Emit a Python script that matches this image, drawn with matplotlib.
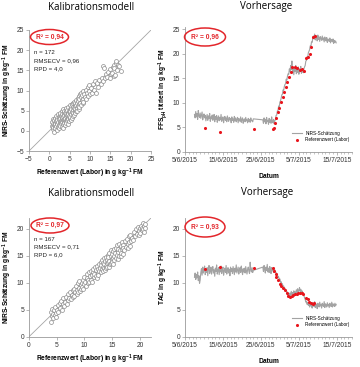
import matplotlib
matplotlib.use('Agg')
import matplotlib.pyplot as plt
import matplotlib.dates as mdates
from matplotlib.patches import Ellipse
from matplotlib.ticker import FuncFormatter
import pandas as pd

plt.rcParams['font.family'] = ['Liberation Sans', 'DejaVu Sans']
plt.rcParams['mathtext.fontset'] = 'custom'
plt.rcParams['mathtext.rm'] = 'Liberation Sans'
plt.rcParams['mathtext.bf'] = 'Liberation Sans:bold'
plt.rcParams['mathtext.it'] = 'Liberation Sans:italic'

# ---- Kalibrationsmodell FFS (oben links), n = 172
ffs_ref = [0.6, 0.7, 0.8, 0.9, 1.0, 1.0, 1.1, 1.2, 1.2, 1.3, 1.4, 1.4, 1.5, 1.5,
           1.6, 1.6, 1.7, 1.8, 1.8, 1.9, 2.0, 2.0, 2.1, 2.1, 2.2, 2.3, 2.3, 2.4, 2.4, 2.5, 2.5, 2.5,
           2.6, 2.7, 2.7, 2.8, 2.9, 2.9, 3.0, 3.0, 3.1, 3.1, 3.2, 3.2, 3.3, 3.3, 3.4, 3.4, 3.5, 3.5, 3.5, 3.4,
           3.6, 3.6, 3.7, 3.8, 3.8, 3.9, 3.9, 4.0, 4.0, 4.1, 4.1, 4.2, 4.2, 4.3, 4.3, 4.4, 4.4, 4.5, 4.5, 4.5,
           4.6, 4.7, 4.7, 4.8, 4.9, 4.9, 5.0, 5.0, 5.1, 5.1, 5.2, 5.2, 5.3, 5.3, 5.4, 5.4, 5.5, 5.5,
           5.6, 5.7, 5.7, 5.8, 5.9, 5.9, 6.0, 6.1, 6.1, 6.2, 6.2, 6.3, 6.4, 6.4, 6.5, 6.5,
           6.6, 6.7, 6.8, 6.9, 7.0, 7.0, 7.1, 7.2, 7.2, 7.3, 7.4, 7.4, 7.5, 7.5,
           7.7, 7.8, 7.9, 8.0, 8.1, 8.2, 8.3, 8.3, 8.4, 8.5,
           8.7, 8.9, 9.0, 9.2, 9.4, 9.5, 9.7, 9.8, 10.0,
           10.3, 10.6, 10.8, 11.0, 11.3, 11.5, 11.7, 12.0,
           12.3, 12.6, 12.9, 13.1, 13.3, 13.4, 13.6, 13.9,
           14.2, 14.5, 14.8, 15.0, 15.2, 15.4, 15.6, 15.8, 15.9, 16.0, 16.2, 16.3, 16.5, 16.6, 16.8, 17.2, 17.5]
ffs_nirs = [1.2, 2.3, 0.4, 1.8, 2.9, 0.9, 1.5, -0.2, 2.6, 1.1, 2.0, 3.3, 0.6, 1.7,
            2.4, 3.8, 1.2, 2.0, 0.3, 3.1, 1.6, 2.7, 4.2, 0.9, 2.2, 3.5, 1.4, 2.9, 0.6, 1.9, 3.9, 2.5,
            3.2, 1.3, 4.5, 2.4, 3.7, 1.9, 2.9, 4.9, 1.0, 3.4, 2.2, 4.1, 2.7, 5.3, 1.6, 3.6, 2.5, 4.4, 3.0, 0.8,
            3.9, 1.9, 5.0, 2.8, 4.3, 3.3, 1.4, 4.8, 2.4, 3.6, 5.6, 2.0, 4.1, 3.0, 5.2, 3.9, 2.6, 4.5, 1.8, 3.4,
            5.8, 3.0, 4.2, 2.4, 5.0, 3.7, 6.3, 4.5, 2.9, 5.4, 3.5, 4.8, 6.0, 2.6, 4.1, 5.5, 3.3, 6.6,
            4.7, 5.9, 3.8, 5.2, 6.8, 4.3, 5.6, 7.2, 3.9, 6.1, 4.8, 5.3, 7.0, 4.4, 6.4, 5.0,
            7.6, 5.6, 6.9, 4.9, 8.1, 6.2, 7.3, 5.4, 8.6, 6.7, 7.8, 5.9, 9.2, 7.0,
            8.4, 6.5, 9.5, 7.6, 8.9, 6.9, 9.8, 8.0, 7.2, 9.1,
            8.3, 10.2, 7.9, 9.4, 10.8, 8.7, 9.9, 11.3, 9.2,
            10.6, 9.4, 11.5, 10.2, 12.3, 9.3, 11.8, 10.9,
            12.6, 11.6, 13.2, 12.4, 16.0, 15.5, 13.0, 14.1,
            13.4, 14.6, 13.2, 15.3, 14.1, 14.4, 15.9, 16.4, 13.6, 15.7, 13.8, 16.9, 17.3, 15.2, 16.4, 16.0, 14.8]

# ---- Kalibrationsmodell TAC (unten links), n = 167
tac_ref = [3.9, 4.0, 4.1, 4.2, 4.3, 4.4, 4.5, 4.6, 4.7, 4.8, 4.9, 5.0,
           5.2, 5.3, 5.5, 5.6, 5.8, 5.9, 6.1, 6.2, 6.4, 6.5,
           6.7, 6.8, 7.0, 7.1, 7.3, 7.4, 7.6, 7.7, 7.9, 8.0,
           8.1, 8.2, 8.3, 8.5, 8.6, 8.7, 8.8, 8.9, 9.0, 9.1, 9.2, 9.3, 9.4, 9.5,
           9.6, 9.7, 9.8, 9.9, 10.0, 10.1, 10.2, 10.4, 10.5, 10.6, 10.7, 10.8, 10.9, 11.0,
           11.1, 11.2, 11.3, 11.4, 11.5, 11.6, 11.7, 11.8, 11.9, 12.0, 12.1, 12.2, 12.3, 12.4, 12.4, 12.5,
           12.6, 12.7, 12.8, 12.9, 13.0, 13.0, 13.1, 13.2, 13.3, 13.3, 13.4, 13.5, 13.5, 13.6, 13.7, 13.7, 13.8, 13.9, 13.9, 14.0,
           14.1, 14.1, 14.2, 14.3, 14.3, 14.4, 14.5, 14.5, 14.6, 14.7, 14.7, 14.8, 14.9, 14.9, 15.0, 15.1, 15.1, 15.2, 15.3, 15.4, 15.4, 15.5,
           15.6, 15.7, 15.8, 15.9, 16.0, 16.0, 16.1, 16.2, 16.3, 16.4, 16.5, 16.5, 16.6, 16.7, 16.8, 16.9, 17.0, 17.0,
           17.2, 17.3, 17.5, 17.6, 17.8, 17.9, 18.0, 18.1, 18.2, 18.3, 18.4, 18.5,
           18.7, 18.9, 19.1, 19.3, 19.5, 19.6, 19.8, 19.9, 20.0, 20.0,
           20.2, 20.3, 20.4, 20.5, 20.6, 20.7, 20.8, 20.9, 21.0]
tac_nirs = [2.8, 4.6, 3.9, 5.1, 4.2, 3.5, 4.9, 4.0, 5.5, 4.4, 3.7, 5.0,
            5.8, 4.6, 6.2, 5.3, 6.6, 5.0, 6.0, 7.1, 5.7, 6.5,
            7.4, 6.1, 7.9, 6.8, 7.2, 8.3, 6.9, 7.8, 8.6, 7.4,
            8.9, 7.6, 8.3, 9.4, 7.9, 8.7, 9.9, 8.2, 9.1, 10.3, 8.5, 9.6, 8.8, 10.0,
            9.3, 10.6, 8.9, 9.8, 11.0, 10.2, 9.4, 10.8, 11.6, 9.9, 10.5, 11.9, 10.1, 11.2,
            10.6, 12.1, 11.4, 10.2, 11.9, 12.6, 11.0, 11.6, 12.9, 11.3, 12.3, 10.9, 13.1, 11.8, 12.5, 11.5,
            13.4, 12.2, 12.8, 13.9, 11.9, 13.2, 12.6, 14.2, 13.0, 12.1, 13.7, 14.6, 12.8, 13.4, 12.4, 14.0, 13.1, 14.8, 12.7, 13.6,
            14.3, 13.0, 15.1, 13.8, 14.7, 12.9, 14.0, 15.5, 13.5, 14.9, 16.0, 13.7, 14.4, 15.3, 13.9, 15.8, 14.6, 13.4, 15.0, 16.2, 14.2, 15.6,
            14.5, 16.4, 15.2, 17.0, 15.7, 14.4, 16.3, 15.0, 17.2, 16.0, 14.9, 16.8, 15.5, 17.6, 16.2, 15.3, 17.0, 16.5,
            16.0, 17.8, 16.7, 18.2, 17.1, 16.4, 18.6, 17.5, 16.9, 18.9, 17.8, 18.3,
            18.0, 19.4, 18.6, 19.9, 19.0, 20.4, 19.5, 18.8, 20.1, 19.3,
            20.6, 19.7, 20.2, 21.0, 19.9, 20.5, 19.4, 20.8, 20.1]

# ---- Vorhersage: NIRS-Schätzung alle 4 h (zwei Messabschnitte)
nirs_ffs = [7.6, 6.9, 8.2, 7.1, 7.8, 6.6, 8.4, 7.3, 7.0,
            7.9, 6.8, 7.5, 8.1, 6.5, 7.2, 7.7, 6.9, 7.4, 6.3,
            7.0, 7.6, 6.4, 7.3, 6.8, 7.8, 6.2, 7.1, 6.7, 7.5,
            6.4, 6.9, 7.6, 6.1, 7.2, 6.6, 7.4, 6.0, 6.9, 7.3,
            6.3, 7.0, 6.5, 7.6, 6.2, 6.8, 7.1, 5.9, 6.7, 7.2,
            6.4, 6.9, 6.1, 7.3, 6.6, 6.2, 7.0, 6.5, 6.8, 5.9,
            7.1, 6.4, 6.7, 6.0, 7.2, 6.3, 6.9, 6.1, 6.6, 7.0,
            5.9, 6.8, 6.4, 6.2, 7.1, 6.0, 6.6, 6.9, 5.8, 6.5,
            6.7, 6.1, 7.0, 6.3, 6.5, 5.9, 6.8, 6.2, 6.6, 6.0,
            6.9, 6.3, 6.4, 6.1, 6.7,
            # ab 25/6
            6.5, 5.8, 6.9, 6.1, 6.6, 5.7, 7.0, 6.2, 6.4, 5.6, 6.8, 6.0, 6.5, 5.8, 7.1, 6.2, 5.9, 6.6, 5.7, 6.3,
            6.6, 7.4, 7.5, 8.3, 8.4, 9.3, 9.2, 10.1, 10.4, 10.9, 11.6, 11.7, 12.6, 12.5, 13.3, 13.7, 13.9,
            14.8, 14.6, 15.4, 15.9, 15.8, 16.9, 16.3, 17.6, 16.8,
            18.5, 16.1, 17.2, 15.7, 17.0, 16.4, 17.6, 15.9, 16.8, 16.2, 17.3, 15.8, 16.9, 16.5, 17.4, 16.0,
            16.7, 16.3, 16.1,
            16.9, 17.3, 17.6, 18.5, 18.6, 19.4, 19.3, 20.2, 20.5, 20.8, 21.6, 21.5, 22.4, 22.3, 23.2, 23.6,
            23.0, 24.0, 22.8, 23.6, 23.3, 22.6, 23.8, 22.9, 23.4, 22.5, 23.5, 23.1, 22.7, 23.6, 22.8, 23.2,
            22.4, 23.4, 22.9, 22.6, 23.3, 22.3, 23.0, 22.7, 22.5, 23.2, 22.2, 22.9, 22.6, 22.4, 23.0, 22.1,
            22.7, 22.3, 22.6, 22.2]
nirs_tac = [11.0, 11.8, 10.6, 11.5, 10.9, 12.0, 10.4, 11.3, 9.9,
            10.5, 11.9, 12.6, 11.4, 12.9, 11.8, 12.3, 13.1, 11.5, 12.4,
            11.9, 12.8, 11.3, 12.6, 13.2, 11.7, 12.2, 12.9, 11.6, 12.5,
            13.0, 11.8, 12.4, 11.2, 12.7, 12.1, 13.3, 11.6, 12.3, 12.8,
            11.5, 12.6, 12.0, 13.1, 11.7, 12.4, 12.9, 11.4, 12.2, 12.7,
            11.9, 13.2, 11.6, 12.3, 12.8, 11.8, 12.5, 11.3, 12.9, 12.1,
            12.6, 11.7, 13.0, 12.2, 11.5, 12.7, 12.0, 13.3, 11.8, 12.4,
            12.9, 11.6, 12.3, 12.8, 11.9, 13.1, 12.2, 11.5, 12.6, 12.0,
            12.7, 11.8, 13.0, 12.3, 11.6, 12.5, 12.9, 12.1, 11.7, 13.8,
            12.4, 12.0, 12.8, 11.9, 12.3,
            # ab 25/6
            12.9, 12.1, 13.2, 12.4, 11.8, 12.9, 12.3, 13.4, 12.0, 12.7, 11.9, 13.0, 12.5, 11.7, 12.8, 12.2,
            12.6, 11.9, 12.7, 12.3,
            12.0, 11.9, 11.4, 11.6, 11.0, 11.1, 10.6, 10.7, 10.1, 10.2, 9.7, 9.8, 9.2, 9.4, 8.8, 9.0, 8.4,
            8.6, 8.0, 8.3, 7.6, 7.9, 7.4,
            8.1, 7.6, 8.4, 7.8, 8.2, 7.5, 8.5, 7.9, 8.3, 8.0, 8.7, 8.1, 8.9, 8.3, 8.6, 9.1, 8.4, 8.8, 8.2,
            8.5, 7.9, 8.1,
            7.6, 7.2, 6.9, 6.4, 6.6, 6.0, 6.3, 5.8,
            6.2, 5.5, 6.4, 5.7, 6.0, 5.3, 6.3, 5.8, 5.6, 6.5, 5.4, 6.1, 5.8, 5.2, 6.2, 5.9, 5.5, 6.4, 5.7,
            6.0, 5.3, 6.2, 5.8, 5.6, 6.5, 5.4, 6.1, 5.9, 5.5, 6.3, 5.7, 6.0, 5.4, 6.2, 5.8, 5.6, 6.4, 5.5,
            6.1, 5.9, 5.6, 6.2, 5.7, 6.0]

# ---- Referenzwerte (Labor), Tage nach dem 5/6/2015
lab_ffs_day = [5.3, 9.2, 18.2, 23.2, 23.4, 23.7, 24.1, 24.6, 24.8, 25.3, 25.7, 26.1, 26.6, 27.0,
               27.5, 27.9, 28.3, 28.9, 29.6, 30.3, 30.9, 31.4, 32.0, 32.4, 32.9, 33.3, 33.8, 34.2]
lab_ffs = [4.8, 4.0, 4.6, 4.6, 4.8, 5.8, 6.8, 8.2, 8.9, 10.2, 11.2, 12.2, 13.3, 14.3,
           15.3, 16.3, 17.2, 17.3, 17.0, 16.7, 16.8, 16.5, 19.1, 19.4, 19.9, 21.4, 23.3, 23.7]
lab_tac_day = [5.3, 9.2, 18.2, 23.2, 23.5, 23.9, 24.1, 24.6, 25.0, 25.4, 25.9, 26.3, 26.8, 27.2, 27.6,
               28.1, 28.5, 28.9, 29.4, 29.8, 30.3, 30.7, 31.1, 31.8, 32.3, 32.7, 33.2, 33.6, 34.0]
lab_tac = [12.5, 13.0, 12.8, 12.8, 12.2, 11.6, 11.1, 10.5, 9.7, 9.4, 9.1, 8.7, 8.1, 7.6, 7.3,
           7.6, 7.8, 7.9, 8.0, 8.1, 8.1, 8.1, 8.0, 7.1, 6.9, 6.5, 6.2, 6.0, 6.3]

date_ticks = ['2015-06-05', '2015-06-15', '2015-06-25', '2015-07-05', '2015-07-15']

#%% zeitachsen
start = pd.Timestamp('2015-06-05')
nirs_time = pd.date_range('2015-06-07 12:00', periods=94, freq='4h').append(
    pd.date_range('2015-06-25 12:00', periods=117, freq='4h'))
lab_ffs_time = start + pd.to_timedelta(lab_ffs_day, unit='D')
lab_tac_time = start + pd.to_timedelta(lab_tac_day, unit='D')

#%% figure
W, H = 360, 367
fig = plt.figure(figsize=(W / 100, H / 100), dpi=100)

def add_ax(l, t, r, b):
    return fig.add_axes([l / W, 1 - b / H, (r - l) / W, (b - t) / H])

def style(ax):
    for s in ['top', 'right']:
        ax.spines[s].set_visible(False)
    for s in ['left', 'bottom']:
        ax.spines[s].set_color('#9a9a9a')
        ax.spines[s].set_linewidth(0.6)
    ax.tick_params(labelsize=4.8, length=2, width=0.5, color='#9a9a9a',
                   labelcolor='#333333', pad=1.5)
    ax.tick_params(which='minor', length=1.5, width=0.4, color='#9a9a9a')

ax1 = add_ax(29, 30, 151, 151)
ax2 = add_ax(185, 26.7, 352, 151.7)
ax3 = add_ax(29, 218, 151, 336.7)
ax4 = add_ax(185, 218, 352, 336.7)
for ax in [ax1, ax2, ax3, ax4]:
    style(ax)

ylab_unit = ' in g kg$^{\\mathbf{-1}}$ FM'
xlab_cal = 'Referenzwert (Labor)' + ylab_unit

# Kalibration
for ax, xr, yn, lim, ticks in [(ax1, ffs_ref, ffs_nirs, (-5, 25), range(-5, 26, 5)),
                               (ax3, tac_ref, tac_nirs, (0, 22), range(0, 21, 5))]:
    ax.plot(lim, lim, color='#a5a5a5', lw=0.6, zorder=1)
    ax.scatter(xr, yn, s=8, facecolors='white', edgecolors='#8c8c8c', linewidths=0.5, zorder=3)
    ax.set_xlim(lim)
    ax.set_ylim(lim)
    ax.set_xticks(list(ticks))
    ax.set_yticks(list(ticks))
    ax.set_xlabel(xlab_cal, fontsize=4.8, fontweight='bold', labelpad=3)
    ax.set_ylabel('NIRS-Schätzung' + ylab_unit, fontsize=4.8, fontweight='bold', labelpad=2)

for ax, n, rmse, rpd, ys in [(ax1, 172, '0,96', '4,0', (0.813, 0.747, 0.681)),
                              (ax3, 167, '0,71', '6,0', (0.817, 0.755, 0.693))]:
    for txt, yy in zip([f'n = {n}', f'RMSECV = {rmse}', f'RPD = {rpd}'], ys):
        ax.text(0.045, yy, txt, transform=ax.transAxes, fontsize=4.4, color='#222222', va='center')

# Vorhersage
fmt = FuncFormatter(lambda v, p: '{0.day}/{0.month}/{0.year}'.format(mdates.num2date(v)))
for ax, yn, lt, lv, ylim, yt, ylab in [
        (ax2, nirs_ffs, lab_ffs_time, lab_ffs, (0, 25.5), range(0, 26, 5),
         'FFS$_{\\mathbf{pH}}$ titriert' + ylab_unit),
        (ax4, nirs_tac, lab_tac_time, lab_tac, (0, 22), range(0, 21, 5), 'TAC' + ylab_unit)]:
    ax.plot(nirs_time, yn, color='#a3a3a3', lw=0.8, label='NIRS-Schätzung', zorder=2)
    ax.scatter(lt, lv, s=5, color='#e8151c', linewidths=0, label='Referenzwert (Labor)', zorder=3)
    ax.set_xlim(start, start + pd.Timedelta(days=44))
    ax.set_ylim(ylim)
    ax.set_yticks(list(yt))
    ax.set_xticks([pd.Timestamp(d) for d in date_ticks])
    ax.xaxis.set_major_formatter(fmt)
    ax.xaxis.set_minor_locator(mdates.DayLocator())
    ax.set_xlabel('Datum', fontsize=4.8, fontweight='bold', labelpad=7)
    ax.set_ylabel(ylab, fontsize=4.8, fontweight='bold', labelpad=2)
    ax.legend(loc='lower right', bbox_to_anchor=(1.0, 0.06), frameon=False, fontsize=3.3,
              handlelength=2.2, handletextpad=0.8, labelspacing=0.3, borderpad=0,
              markerscale=1.0)

# Titel
for x, y, t in [(90.8, 7, 'Kalibrationsmodell'), (266, 7, 'Vorhersage'),
                (90.8, 193, 'Kalibrationsmodell'), (267, 193, 'Vorhersage')]:
    fig.text(x / W, 1 - y / H, t, ha='center', va='center', fontsize=7, family='Open Sans')

# R²-Ellipsen
for cx, cy, w, h, r2 in [(49.5, 37, 38, 15, '0,94'), (205, 37, 41, 18, '0,96'),
                         (50, 225.5, 38, 15, '0,97'), (205, 227, 40, 20, '0,93')]:
    fig.add_artist(Ellipse((cx / W, 1 - cy / H), w / W, h / H, transform=fig.transFigure,
                           fill=False, edgecolor='#e3262b', lw=1.1))
    fig.text(cx / W, 1 - cy / H, 'R² = ' + r2, color='#e3262b', fontsize=4.8,
             fontweight='bold', ha='center', va='center')

fig.savefig('out.png', dpi=100)
